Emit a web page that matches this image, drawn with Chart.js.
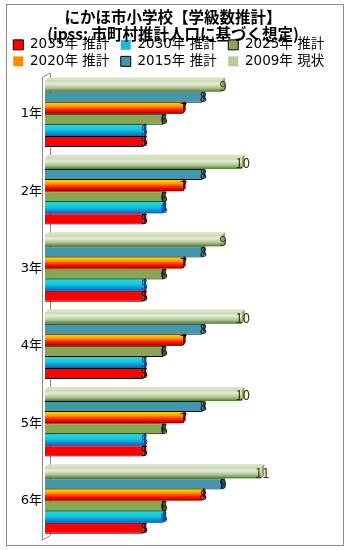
<!DOCTYPE html>
<html>
<head>
<meta charset="utf-8">
<script src="https://cdn.jsdelivr.net/npm/chart.js@4.4.0/dist/chart.umd.min.js"></script>
<style>
  html, body { margin: 0; padding: 0; background: #fff; }
  #wrap { position: relative; width: 350px; height: 550px; }
  #frame { position: absolute; left: 6px; top: 4px; width: 336px; height: 540px; border: 1px solid #8c8c8c; }
  canvas { position: absolute; left: 0; top: 0; }
</style>
</head>
<body>
<div id="wrap">
  <div id="frame"></div>
  <canvas id="chart" width="350" height="550"></canvas>
</div>
<script>
// === データ ===
const grades = ["1年", "2年", "3年", "4年", "5年", "6年"];
const seriesNames = ["2009年 現状", "2015年 推計", "2020年 推計", "2025年 推計", "2030年 推計", "2035年 推計"];
const y2009 = [9, 10, 9, 10, 10, 11];
const y2015 = [8, 8, 8, 8, 8, 9];
const y2020 = [7, 7, 7, 7, 7, 8];
const y2025 = [6, 6, 6, 6, 6, 6];
const y2030 = [5, 6, 5, 5, 5, 6];
const y2035 = [5, 5, 5, 5, 5, 5];
const titleLines = ["にかほ市小学校【学級数推計】", "(ipss: 市町村推計人口に基づく想定)"];

const FONT = "'Noto Sans CJK JP', 'Noto Sans', sans-serif";
const WIDE = "'DejaVu Sans', 'Noto Sans CJK JP', sans-serif";

// 系列ごとの見た目（単色 / グラデーション）
const looks = [
  { fill: "#b9cc98", border: "#4f7a2c", grad: [[0, "#c9d9b2"], [0.3, "#e4ecd6"], [0.7, "#a9c08a"], [1, "#4b7a28"]], top: "#d6e2c4", side: "#8aa868", label: "#3e3410" },
  { fill: "#4397ad", border: "#000", grad: null, top: "#4397ad", side: "#1f4f5e", label: "#14283a" },
  { fill: "#ff8a00", border: "#8a0000", grad: [[0, "#ffd800"], [0.3, "#ff9c00"], [0.6, "#ff2a00"], [0.85, "#e00000"], [1, "#800000"]], top: "#ffd800", side: "#a00000", label: "#3a0000" },
  { fill: "#8ba650", border: "#000", grad: null, top: "#8ba650", side: "#3e5420", label: "#1e2c0c" },
  { fill: "#1cb8e0", border: "#0a5cb8", grad: [[0, "#22dcd6"], [0.45, "#14c4de"], [1, "#0a62c4"]], top: "#22dcd6", side: "#0a4a9a", label: "#0c5ab0" },
  { fill: "#ff0000", border: "#000", grad: null, top: "#ff0000", side: "#8a0000", label: "#3a0000" }
];
const values = [y2009, y2015, y2020, y2025, y2030, y2035];

const datasets = values.map((v, i) => ({
  label: seriesNames[i],
  data: v,
  backgroundColor: looks[i].fill,
  borderColor: looks[i].border,
  borderWidth: looks[i].grad ? 0 : 1,
  barPercentage: 1.0,
  categoryPercentage: 0.86
}));

// === 3D風の側面・グラデーション・数値ラベル ===
const barDeco = {
  id: "barDeco",
  beforeDraw(chart) {
    // 左側の壁（奥行きの線）
    const { ctx, chartArea: a } = chart;
    ctx.save();
    ctx.strokeStyle = "#8c8c8c";
    ctx.lineWidth = 1;
    ctx.beginPath();
    ctx.moveTo(a.left - 2.5, a.top + 2);
    ctx.lineTo(a.left + 5.5, a.top - 2);
    ctx.lineTo(a.left + 5.5, a.bottom - 4);
    ctx.moveTo(a.left - 2.5, a.top + 2);
    ctx.lineTo(a.left - 2.5, a.bottom + 1);
    ctx.lineTo(a.left + 5.5, a.bottom - 4);
    ctx.stroke();
    ctx.restore();
  },
  beforeDatasetDraw(chart, args) {
    const { ctx } = chart;
    const look = looks[args.index];
    const d = 3;
    ctx.save();
    args.meta.data.forEach(bar => {
      const top = bar.y - bar.height / 2;
      const bot = bar.y + bar.height / 2;
      // 上面
      ctx.fillStyle = look.top;
      ctx.beginPath();
      ctx.moveTo(bar.base, top);
      ctx.lineTo(bar.base + d, top - d);
      ctx.lineTo(bar.x + d, top - d);
      ctx.lineTo(bar.x, top);
      ctx.closePath();
      ctx.fill();
      // 右側面
      ctx.fillStyle = look.side;
      ctx.beginPath();
      ctx.moveTo(bar.x, top);
      ctx.lineTo(bar.x + d, top - d);
      ctx.lineTo(bar.x + d, bot - d);
      ctx.lineTo(bar.x, bot);
      ctx.closePath();
      ctx.fill();
    });
    ctx.restore();
  },
  afterDatasetDraw(chart, args) {
    const { ctx } = chart;
    const look = looks[args.index];
    if (!look.grad) return;
    ctx.save();
    args.meta.data.forEach(bar => {
      const top = bar.y - bar.height / 2;
      const g = ctx.createLinearGradient(0, top, 0, top + bar.height);
      look.grad.forEach(s => g.addColorStop(s[0], s[1]));
      ctx.fillStyle = g;
      ctx.fillRect(bar.base, top, bar.x - bar.base, bar.height);
    });
    ctx.restore();
  },
  afterDatasetsDraw(chart) {
    const { ctx } = chart;
    ctx.save();
    ctx.font = "13px " + FONT;
    ctx.textAlign = "center";
    ctx.textBaseline = "middle";
    chart.data.datasets.forEach((ds, i) => {
      const meta = chart.getDatasetMeta(i);
      ctx.fillStyle = looks[i].label;
      meta.data.forEach((bar, j) => {
        ctx.fillText(String(ds.data[j]), bar.x + 1, bar.y);
      });
    });
    ctx.restore();
  }
};

new Chart(document.getElementById("chart").getContext("2d"), {
  type: "bar",
  data: { labels: grades, datasets: datasets },
  options: {
    indexAxis: "y",
    responsive: false,
    animation: false,
    layout: { padding: { left: 6, right: 10, top: 4, bottom: -3 } },
    plugins: {
      title: {
        display: true,
        text: titleLines,
        color: "#000",
        font: { family: FONT, size: 15.5, weight: "bold", lineHeight: 1.1 },
        padding: { top: 5, bottom: -8 }
      },
      legend: {
        reverse: true,
        maxHeight: 40,
        labels: {
          color: "#000",
          font: { family: WIDE, size: 13.5 },
          boxWidth: 10,
          boxHeight: 10,
          padding: 3,
          // 凡例の項目どうしの間隔を少し空ける
          generateLabels(chart) {
            const items = Chart.defaults.plugins.legend.labels.generateLabels(chart);
            items.forEach(it => { it.text = it.text + "  "; });
            return items;
          }
        }
      },
      tooltip: { enabled: false }
    },
    scales: {
      x: { min: 0, max: 15, display: false },
      y: {
        grid: { display: false, drawTicks: false },
        border: { display: false },
        ticks: { color: "#000", font: { family: WIDE, size: 13 }, padding: 3 },
        afterFit(s) { s.width = 39; }
      }
    }
  },
  plugins: [barDeco]
});
</script>
</body>
</html>
